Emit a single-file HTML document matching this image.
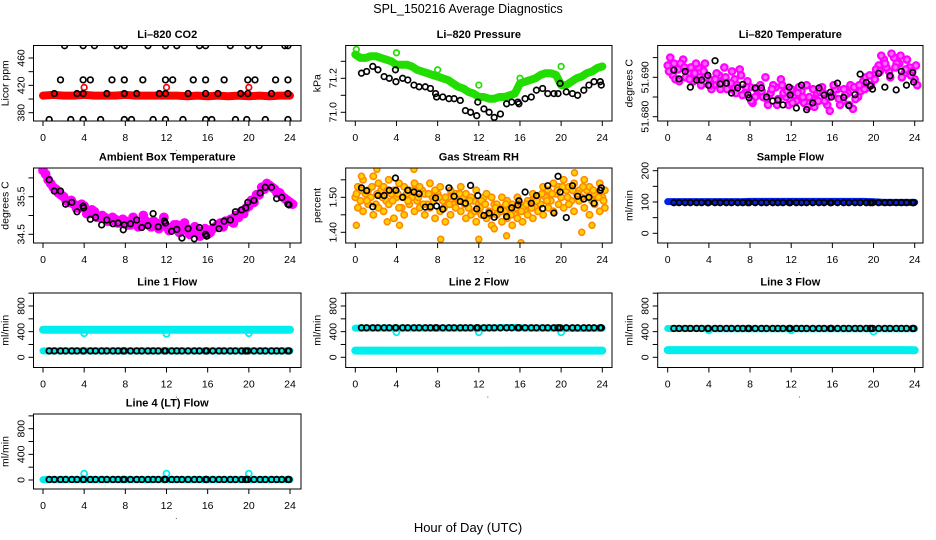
<!DOCTYPE html>
<html><head><meta charset="utf-8"><style>
html,body{margin:0;padding:0;background:#fff;}
svg{display:block;font-family:"Liberation Sans",Arial,sans-serif;}
</style></head><body>
<svg id="chart" width="936" height="540" viewBox="0 0 936 540" xmlns="http://www.w3.org/2000/svg">
<text x="468" y="13" text-anchor="middle" font-size="12.5">SPL_150216  Average Diagnostics</text>
<text x="468" y="532" text-anchor="middle" font-size="13">Hour of Day (UTC)</text>
</svg>
<script>
// ---------- data ----------
const blackHours=[0.6,1.1,1.7,2.2,2.8,3.3,3.9,3.95, 4.6,5.1,5.7,6.2,6.8,7.3,7.8,7.9, 8.5,9.1,9.6,10.2,10.7,11.2,11.8,11.9, 12.5,13.0,13.5,14.1,14.7,15.2,15.8,15.9, 16.5,17.1,17.6,18.2,18.7,19.3,19.7,19.9, 20.5,21.1,21.6,22.2,22.7,23.2,23.8,23.9];
const hourly=[0,1,2,3,4,5,6,7,8,9,10,11,12,13,14,15,16,17,18,19,20,21,22,23,24];
const halfHours=[0,0.5,1,1.5,2,2.5,3,3.5,4,4.5,5,5.5,6,6.5,7,7.5,8,8.5,9,9.5,10,10.5,11,11.5,12,12.5,13,13.5,14,14.5,15,15.5,16,16.5,17,17.5,18,18.5,19,19.5,20,20.5,21,21.5,22,22.5,23,23.5,24];
const spikeHours=[4,12,20];

const co2Red=[405,406,405,405,406,405,405,405,406,405,405,405,405,405,404,405,404,405,404,405,404,405,404,405,405];
const co2RedSpikes=[417,417,417];
const co2BlackHours=[2.1,3.9,5.0,7.2,7.9,10.2,11.9,13.0,15.2,15.8,18.2,19.9,21.0,23.5,23.8, 1.7,3.9,4.6,6.7,7.9,9.7,11.9,12.6,14.6,15.8,17.6,19.9,20.6,22.6,23.8, 1.1,3.3,3.9,6.2,7.9,9.1,11.3,11.9,14.1,15.8,17.0,19.2,19.9,22.2,23.8, 0.6,2.7,3.9,5.6,7.9,8.6,10.7,11.9,13.6,15.8,16.4,18.7,19.8,21.6,23.8];
const co2BlackValues=[478,478,478,478,478,478,478,478,478,478,478,478,478,478,478, 428,428,428,428,428,428,428,428,428,428,428,428,428,428,428, 408,408,408,408,408,408,408,408,408,408,408,408,408,408,408, 370,370,370,370,370,370,370,370,370,370,370,370,370,370,370];

const pressGreen=[71.34,71.32,71.32,71.33,71.33,71.32,71.31,71.30,71.28,71.28,71.28,71.27,71.25,71.24,71.23,71.22,71.21,71.20,71.19,71.17,71.15,71.14,71.12,71.11,71.09,71.09,71.08,71.08,71.09,71.09,71.10,71.11,71.17,71.18,71.19,71.20,71.22,71.23,71.23,71.22,71.16,71.16,71.18,71.20,71.21,71.23,71.24,71.26,71.27];
const pressGreenOutHours=[0.1,4,8,12,16,20];
const pressGreenOut=[71.37,71.35,71.25,71.16,71.20,71.27];
const pressBlack=[71.23,71.24,71.27,71.25,71.21,71.20,71.25,71.18, 71.20,71.19,71.16,71.15,71.15,71.14,71.11,71.09, 71.09,71.08,71.08,71.07,71.01,71.00,70.98,71.06, 71.02,71.00,70.97,70.99,71.05,71.06,71.06,71.05, 71.08,71.09,71.13,71.14,71.11,71.11,71.11,71.17, 71.12,71.11,71.10,71.13,71.16,71.18,71.18,71.16];

const liTempA=[51.6930,51.6905,51.6920,51.6945,51.6910,51.6890,51.6925,51.6915,51.6895,51.6880, 51.6905,51.6925,51.6870,51.6895,51.6920,51.6860,51.6875,51.6850,51.6880,51.6900, 51.6860,51.6875,51.6895,51.6850,51.6870,51.6840,51.6865,51.6880,51.6845,51.6860, 51.6875,51.6830,51.6855,51.6870,51.6840,51.6860,51.6820,51.6850,51.6890,51.6875, 51.6905,51.6930,51.6945,51.6915,51.6950,51.6935,51.6910,51.6925,51.6895];
const liTempB=[51.6950,51.6895,51.6935,51.6900,51.6925,51.6935,51.6880,51.6900,51.6870,51.6910, 51.6885,51.6870,51.6915,51.6880,51.6855,51.6890,51.6835,51.6865,51.6850,51.6830, 51.6880,51.6845,51.6860,51.6830,51.6855,51.6875,51.6835,51.6850,51.6825,51.6865, 51.6840,51.6815,51.6870,51.6830,51.6855,51.6880,51.6845,51.6865,51.6900,51.6880, 51.6920,51.6955,51.6925,51.6960,51.6935,51.6900,51.6945,51.6915,51.6880];
const liTempC=[51.6915,51.6935,51.6890,51.6925,51.6895,51.6910,51.6900,51.6935,51.6880,51.6895, 51.6870,51.6900,51.6885,51.6860,51.6905,51.6875,51.6840,51.6870,51.6865,51.6845, 51.6870,51.6830,51.6880,51.6865,51.6835,51.6860,51.6850,51.6825,51.6870,51.6840, 51.6860,51.6850,51.6880,51.6845,51.6870,51.6830,51.6875,51.6880,51.6870,51.6905, 51.6895,51.6915,51.6935,51.6900,51.6925,51.6955,51.6920,51.6905,51.6930];
const liTempBlack=[51.6918,51.6896,51.6915,51.6875,51.6893,51.6893,51.6905,51.6880, 51.6942,51.6883,51.6885,51.6860,51.6873,51.6882,51.6856,51.6848, 51.6873,51.6873,51.6850,51.6840,51.6842,51.6830,51.6875,51.6855, 51.6822,51.6880,51.6818,51.6835,51.6873,51.6855,51.6862,51.6850, 51.6885,51.6849,51.6828,51.6856,51.6908,51.6887,51.6878,51.6870, 51.6910,51.6875,51.6904,51.6868,51.6915,51.6880,51.6912,51.6888];

const ambA=[36.20,35.95,35.75,35.60,35.50,35.35,35.30,35.20,35.25,35.05, 35.10,34.95,34.95,34.85,34.90,34.80,34.85,34.75,34.80,34.75, 34.85,34.70,34.80,34.75,34.70,34.65,34.75,34.60,34.65,34.55, 34.60,34.55,34.50,34.65,34.75,34.70,34.85,34.80,34.95,35.05, 35.25,35.35,35.55,35.70,35.80,35.70,35.60,35.45,35.35];
const ambB=[36.10,35.85,35.70,35.55,35.40,35.40,35.20,35.30,35.05,35.15, 34.95,35.00,34.85,34.95,34.80,34.90,34.75,34.95,34.70,35.00, 34.75,34.85,34.65,34.95,34.60,34.75,34.55,34.80,34.50,34.70, 34.45,34.65,34.55,34.70,34.80,34.85,34.90,35.00,35.10,35.20, 35.40,35.55,35.75,35.85,35.75,35.60,35.50,35.40,35.30];
const ambBlack=[35.95,35.65,35.65,35.30,35.35,35.10,35.25,35.20, 34.90,34.95,34.75,34.88,34.78,34.80,34.62,34.75, 34.78,34.88,34.68,34.73,35.05,34.70,34.85,34.80, 34.58,34.63,34.40,34.65,34.38,34.68,34.50,34.45, 34.82,34.65,34.85,34.88,35.10,35.15,35.20,35.35, 35.40,35.60,35.75,35.75,35.45,35.48,35.30,35.28];

const rhA=[1.50,1.49,1.51,1.50,1.48,1.52,1.49,1.51,1.50,1.47, 1.51,1.50,1.49,1.52,1.48,1.50,1.51,1.49,1.50,1.48, 1.49,1.50,1.47,1.49,1.48,1.50,1.46,1.48,1.47,1.46, 1.47,1.45,1.48,1.46,1.49,1.47,1.48,1.50,1.49,1.51, 1.50,1.52,1.49,1.51,1.50,1.52,1.49,1.51,1.50];
const rhB=[1.53,1.55,1.52,1.56,1.54,1.53,1.55,1.52,1.54,1.53, 1.52,1.54,1.53,1.51,1.54,1.52,1.53,1.50,1.52,1.51, 1.53,1.51,1.50,1.52,1.49,1.51,1.50,1.48,1.50,1.49, 1.48,1.50,1.47,1.49,1.51,1.50,1.53,1.52,1.54,1.53, 1.55,1.53,1.54,1.52,1.55,1.53,1.51,1.54,1.52];
const rhC=[1.47,1.46,1.48,1.45,1.47,1.46,1.48,1.44,1.47,1.45, 1.48,1.46,1.47,1.45,1.47,1.44,1.46,1.43,1.45,1.47, 1.46,1.44,1.45,1.43,1.45,1.44,1.42,1.45,1.43,1.44, 1.42,1.44,1.43,1.45,1.44,1.46,1.45,1.47,1.46,1.48, 1.47,1.48,1.46,1.49,1.47,1.45,1.48,1.46,1.47];
const rhD=[1.51,1.52,1.49,1.53,1.51,1.50,1.52,1.49,1.51,1.50, 1.49,1.52,1.50,1.48,1.51,1.49,1.50,1.47,1.48,1.50, 1.51,1.48,1.49,1.46,1.47,1.48,1.45,1.47,1.46,1.48, 1.45,1.47,1.46,1.48,1.47,1.49,1.51,1.49,1.51,1.52, 1.53,1.50,1.52,1.51,1.53,1.50,1.52,1.50,1.49];
const rhOutHours=[0.1,0.6,2.1,3.1,4.3,5.7,8.3,12,13.5,14.7,16.1,22,21.3,23];
const rhOut=[1.42,1.56,1.58,1.43,1.42,1.58,1.38,1.38,1.41,1.39,1.37,1.40,1.57,1.42];
const rhBlack=[1.527,1.519,1.473,1.505,1.505,1.520,1.555,1.520, 1.500,1.520,1.515,1.510,1.472,1.473,1.498,1.475, 1.466,1.527,1.503,1.488,1.483,1.534,1.467,1.505, 1.448,1.455,1.443,1.465,1.445,1.470,1.478,1.490, 1.515,1.483,1.505,1.468,1.533,1.455,1.560,1.515, 1.442,1.533,1.503,1.495,1.500,1.483,1.520,1.527];

const sampleBlue=[101,101,101,101,101,101,101,101,102,102,102,102,102,102,102,102,102,102,102,102,101,99,99,99,99];
const sampleBlack=[98,98,98,98,98,98,98,98,98,98,98,98,98,98,98,98,98,98,98,98,98,98,98,98,98,98,98,98,98,98,98,98,98,98,98,98,98,98,98,98,98,98,98,98,98,98,98,98];

const line1CyanHigh=[430,430,430,430,430,430,430,430,430,430,430,430,430,430,430,430,430,430,430,430,430,430,430,430,430];
const line1CyanLow=[100,100,100,100,100,100,100,100,100,100,100,100,100,100,100,100,100,100,100,100,100,100,100,100,100];
const line1Spikes=[375,365,375];
const line1Black=[100,100,100,100,100,100,100,100,100,100,100,100,100,100,100,100,100,100,100,100,100,100,100,100,100,100,100,100,100,100,100,100,100,100,100,100,100,100,100,100,100,100,100,100,100,100,100,100];

const line2CyanHigh=[455,455,455,455,455,455,455,455,455,455,455,455,455,455,460,465,460,455,455,455,455,450,450,450,455];
const line2CyanLow=[105,105,105,105,105,105,105,105,105,105,105,105,105,105,105,105,105,105,105,105,105,105,105,105,105];
const line2Spikes=[390,390,390];
const line2Black=[460,460,460,460,460,460,460,460,460,460,460,460,460,460,460,460,460,460,460,460,460,460,460,460,460,460,460,460,460,460,460,460,460,460,460,460,460,460,460,460,460,460,460,460,460,460,460,460];

const line3CyanHigh=[450,450,450,450,445,445,445,445,445,445,445,445,445,445,445,445,445,445,445,445,445,445,445,445,445];
const line3CyanLow=[112,112,112,112,112,112,112,112,112,112,112,112,112,112,112,112,112,112,112,112,112,112,112,112,110];
const line3Spikes=[420,420,400];
const line3Black=[450,450,450,450,450,450,450,450,450,450,450,450,450,450,450,450,450,450,450,450,450,450,450,450,450,450,450,450,450,450,450,450,450,450,450,450,450,450,450,450,450,450,450,450,450,450,450,450];

const line4Cyan=[5,5,5,5,5,5,5,5,5,5,5,5,5,5,5,5,5,5,5,5,5,5,5,5,5];
const line4Spikes=[100,100,100];
const line4Black=[8,8,8,8,8,8,8,8,8,8,8,8,8,8,8,8,8,8,8,8,8,8,8,8,8,8,8,8,8,8,8,8,8,8,8,8,8,8,8,8,8,8,8,8,8,8,8,8];

const xTicks=[0,4,8,12,16,20,24];

// ---------- layout ----------
const NS="http://www.w3.org/2000/svg";
const svg=document.getElementById('chart');
const cols=[{l:33.5,r:301,x0:43,x24:290},{l:345.7,r:612,x0:355.3,x24:602.3},{l:657.7,r:923,x0:667.7,x24:914.7}];
const rows=[{t:45.5,b:121},{t:168,b:243},{t:293,b:367.5},{t:414,b:489}];
function el(tag,attrs,parent){const e=document.createElementNS(NS,tag);for(const k in attrs)e.setAttribute(k,attrs[k]);(parent||svg).appendChild(e);return e;}
let clipN=0;
function panel(o){
  const c=cols[o.col],r=rows[o.row];
  const g=el('g',{});
  
  
  const xs=h=>c.x0+h*(c.x24-c.x0)/24;
  const ys=v=>o.y1+(v-o.v1)*(o.y2-o.y1)/(o.v2-o.v1);
  const t=el('text',{x:(c.l+c.r)/2,y:r.t-7.5,'text-anchor':'middle','font-size':'11','font-weight':'bold'},g);
  t.textContent=o.title;
  
  
  const yl=el('text',{x:0,y:0,'text-anchor':'middle','font-size':'10.5',transform:`translate(${c.l-25},${(r.t+r.b)/2}) rotate(-90)`},g);
  yl.textContent=o.ylab;
  
  
  const ax=el('g',{stroke:'#000','stroke-width':'1'},g);
  
  
  xTicks.forEach(h=>{
    el('line',{x1:xs(h),x2:xs(h),y1:r.b,y2:r.b+5},ax);
    const tx=el('text',{x:xs(h),y:r.b+20,'text-anchor':'middle','font-size':'10.5',stroke:'none'},ax);
    tx.textContent=h;
    
    
  });
  const dot=el('text',{x:(c.l+c.r)/2+9,y:r.b+30,'text-anchor':'middle','font-size':'8'},g);dot.textContent='.';
  const ay=el('g',{stroke:'#000','stroke-width':'1'},g);
  
  
  o.ticks.forEach(v=>{
    const y=ys(v); if(y<r.t-1||y>r.b+1)return;
    el('line',{x1:c.l-5,x2:c.l,y1:y,y2:y},ay);
  });
  o.labels.forEach(v=>{
    const tx=el('text',{x:0,y:0,'text-anchor':'middle','font-size':'10.5',stroke:'none',transform:`translate(${c.l-9},${ys(v)}) rotate(-90)`},ay);
    tx.textContent=o.fmt?o.fmt(v):v;
    
    
  });
  const id='clip'+(clipN++);
  const cp=el('clipPath',{id:id},g);
  el('rect',{x:c.l,y:r.t,width:c.r-c.l,height:r.b-r.t},cp);
  const plot=el('g',{'clip-path':`url(#${id})`},g);
  const box=el('rect',{x:c.l,y:r.t,width:c.r-c.l,height:r.b-r.t,fill:'none',stroke:'#000','stroke-width':'1'},g);
  
  
  return {plot,xs,ys};
}
function points(p,name,hours,vals,color,rad,sw,fill){
  const g=el('g',{},p.plot);
  
  
  vals.forEach((v,i)=>{
    const m=el('circle',{cx:p.xs(hours[i]),cy:p.ys(v),r:rad,fill:fill||'none',stroke:color,'stroke-width':sw},g);
    
    
  });
}
function band(p,name,hours,vals,color,w){
  const pl=el('polyline',{points:vals.map((v,i)=>p.xs(hours[i])+','+p.ys(v)).join(' '),fill:'none',stroke:color,'stroke-width':w,'stroke-linecap':'round','stroke-linejoin':'round'},p.plot);
  
  
}
const qHours=halfHours.map(h=>h+0.25);
const eHours=halfHours.map(h=>h+0.125);

// CO2
let p=panel({name:'co2',col:0,row:0,title:'Li\u2013820 CO2',ylab:'Licor ppm',v1:380,y1:112.7,v2:460,y2:58,ticks:[380,400,420,440,460],labels:[380,420,460]});
band(p,'co2-red-band',hourly,co2Red,'#ff0000',8);
points(p,'co2-red-spikes',spikeHours,co2RedSpikes,'#ff0000',2.8,1.7);
points(p,'co2-black-points',co2BlackHours,co2BlackValues,'#000',2.8,1.7);

// Pressure
p=panel({name:'pressure',col:1,row:0,title:'Li\u2013820 Pressure',ylab:'kPa',v1:71.0,y1:112.3,v2:71.2,y2:78.3,ticks:[71.0,71.1,71.2,71.3],labels:[71.0,71.2],fmt:v=>v.toFixed(1)});
band(p,'pressure-green-band',halfHours,pressGreen,'#22dd00',8);
points(p,'pressure-green-outliers',pressGreenOutHours,pressGreenOut,'#22dd00',2.8,1.7);
points(p,'pressure-black-points',blackHours,pressBlack,'#000',2.8,1.7);

// Li temperature
p=panel({name:'li-temp',col:2,row:0,title:'Li\u2013820 Temperature',ylab:'degrees C',v1:51.68,y1:116.7,v2:51.69,y2:77.3,ticks:[51.680,51.685,51.690,51.695],labels:[51.680,51.690],fmt:v=>v.toFixed(3)});
points(p,'li-temp-magenta-a',halfHours,liTempA,'#ff00ff',3.2,2.2,'#ff66ff');
points(p,'li-temp-magenta-b',qHours,liTempB,'#ff00ff',3.2,2.2,'#ff66ff');
points(p,'li-temp-magenta-c',eHours,liTempC,'#ff00ff',3.2,2.2,'#ff66ff');
points(p,'li-temp-black-points',blackHours,liTempBlack,'#000',2.8,1.7);

// Ambient
p=panel({name:'ambient-temp',col:0,row:1,title:'Ambient Box Temperature',ylab:'degrees C',v1:34.5,y1:234.3,v2:35.5,y2:196.7,ticks:[34.5,35.0,35.5,36.0],labels:[34.5,35.5],fmt:v=>v.toFixed(1)});
points(p,'ambient-magenta-a',halfHours,ambA,'#ff00ff',3.6,2.6,'#ff00ff');
points(p,'ambient-magenta-b',qHours,ambB,'#ff00ff',3.6,2.6,'#ff00ff');
points(p,'ambient-black-points',blackHours,ambBlack,'#000',2.8,1.7);

// RH
p=panel({name:'rh',col:1,row:1,title:'Gas Stream RH',ylab:'percent',v1:1.4,y1:232.3,v2:1.5,y2:197.3,ticks:[1.40,1.45,1.50,1.55],labels:[1.40,1.50],fmt:v=>v.toFixed(2)});
points(p,'rh-orange-a',halfHours,rhA,'#ff8800',3.2,1.5,'#ffd000');
points(p,'rh-orange-b',qHours,rhB,'#ff8800',3.2,1.5,'#ffd000');
points(p,'rh-orange-c',qHours,rhC,'#ff8800',3.2,1.5,'#ffd000');
points(p,'rh-orange-d',eHours,rhD,'#ff8800',3.2,1.5,'#ffd000');
points(p,'rh-orange-outliers',rhOutHours,rhOut,'#ff8800',3,1.5,'#ffd000');
points(p,'rh-black-points',blackHours,rhBlack,'#000',2.8,1.7);

// Sample flow
p=panel({name:'sample-flow',col:2,row:1,title:'Sample Flow',ylab:'ml/min',v1:0,y1:233.3,v2:200,y2:170.7,ticks:[0,50,100,150,200],labels:[0,100,200]});
band(p,'sample-blue-band',hourly,sampleBlue,'#0022ee',7);
points(p,'sample-black-points',blackHours,sampleBlack,'#000',2.8,1.8);

// Flow panels
const fl=(name,col,row,title,y0)=>panel({name,col,row,title,ylab:'ml/min',v1:0,y1:y0,v2:800,y2:y0-51.3,ticks:[0,200,400,600,800,1000],labels:[0,400,800]});
p=fl('line1-flow',0,2,'Line 1 Flow',357.3);
band(p,'line1-cyan-high',hourly,line1CyanHigh,'#00eeee',8);
band(p,'line1-cyan-low',hourly,line1CyanLow,'#00eeee',7);
points(p,'line1-cyan-spikes',spikeHours,line1Spikes,'#00eeee',3,1.8);
points(p,'line1-black-points',blackHours,line1Black,'#000',2.8,1.8);

p=fl('line2-flow',1,2,'Line 2 Flow',357.3);
band(p,'line2-cyan-high',hourly,line2CyanHigh,'#00eeee',7);
band(p,'line2-cyan-low',hourly,line2CyanLow,'#00eeee',8);
points(p,'line2-cyan-spikes',spikeHours,line2Spikes,'#00eeee',3,1.8);
points(p,'line2-black-points',blackHours,line2Black,'#000',2.8,1.8);

p=fl('line3-flow',2,2,'Line 3 Flow',357.3);
band(p,'line3-cyan-high',hourly,line3CyanHigh,'#00eeee',7);
band(p,'line3-cyan-low',hourly,line3CyanLow,'#00eeee',8);
points(p,'line3-cyan-spikes',spikeHours,line3Spikes,'#00eeee',3,1.8);
points(p,'line3-black-points',blackHours,line3Black,'#000',2.8,1.8);

p=fl('line4-flow',0,3,'Line 4 (LT) Flow',480);
band(p,'line4-cyan-band',hourly,line4Cyan,'#00eeee',7);
points(p,'line4-cyan-spikes',spikeHours,line4Spikes,'#00eeee',3,1.8);
points(p,'line4-black-points',blackHours,line4Black,'#000',2.8,1.8);
</script>
</body></html>
